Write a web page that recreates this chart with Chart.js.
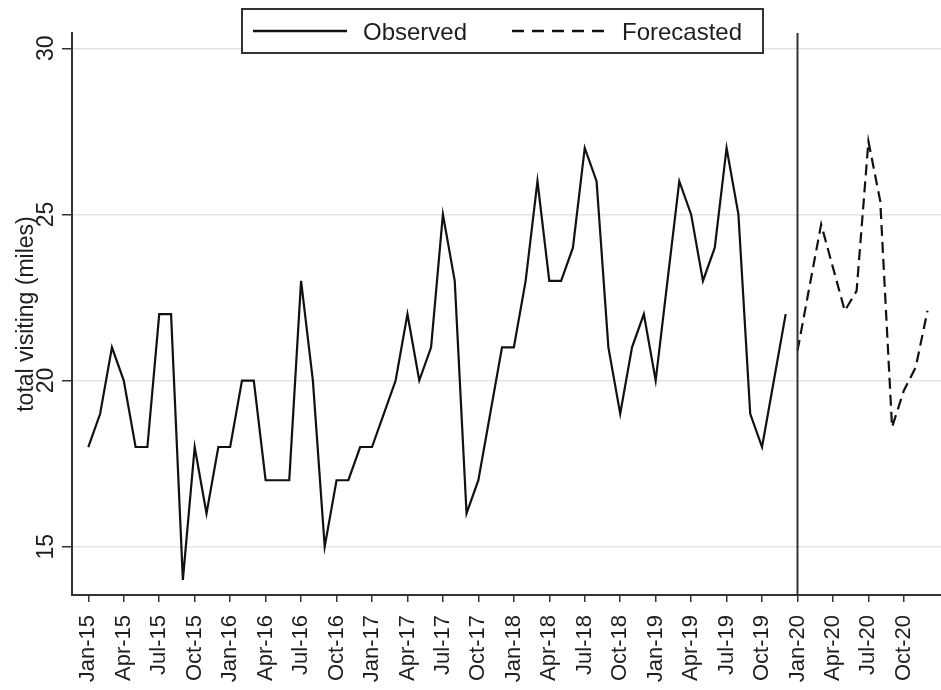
<!DOCTYPE html>
<html><head><meta charset="utf-8">
<script src="https://cdn.jsdelivr.net/npm/chart.js@4/dist/chart.umd.min.js"></script>
<style>html,body{margin:0;padding:0;background:#fff;}#wrap{width:941px;height:690px;}</style>
</head><body><div id="wrap"><canvas id="c" width="941" height="690"></canvas></div>
<script>
const months = [
 'Jan-15','Feb-15','Mar-15','Apr-15','May-15','Jun-15','Jul-15','Aug-15','Sep-15','Oct-15','Nov-15','Dec-15',
 'Jan-16','Feb-16','Mar-16','Apr-16','May-16','Jun-16','Jul-16','Aug-16','Sep-16','Oct-16','Nov-16','Dec-16',
 'Jan-17','Feb-17','Mar-17','Apr-17','May-17','Jun-17','Jul-17','Aug-17','Sep-17','Oct-17','Nov-17','Dec-17',
 'Jan-18','Feb-18','Mar-18','Apr-18','May-18','Jun-18','Jul-18','Aug-18','Sep-18','Oct-18','Nov-18','Dec-18',
 'Jan-19','Feb-19','Mar-19','Apr-19','May-19','Jun-19','Jul-19','Aug-19','Sep-19','Oct-19','Nov-19','Dec-19',
 'Jan-20','Feb-20','Mar-20','Apr-20','May-20','Jun-20','Jul-20','Aug-20','Sep-20','Oct-20','Nov-20','Dec-20'
];
const xTickLabels = ['Jan-15','Apr-15','Jul-15','Oct-15','Jan-16','Apr-16','Jul-16','Oct-16','Jan-17','Apr-17','Jul-17','Oct-17',
 'Jan-18','Apr-18','Jul-18','Oct-18','Jan-19','Apr-19','Jul-19','Oct-19','Jan-20','Apr-20','Jul-20','Oct-20'];
const observed = [
 18,19,21,20,18,18,22,22,14,18,16,18,
 18,20,20,17,17,17,23,20,15,17,17,18,
 18,19,20,22,20,21,25,23,16,17,19,21,
 21,23,26,23,23,24,27,26,21,19,21,22,
 20,23,26,25,23,24,27,25,19,18,20,22
];
const forecastMonths = ['Jan-20','Feb-20','Mar-20','Apr-20','May-20','Jun-20','Jul-20','Aug-20','Sep-20','Oct-20','Nov-20','Dec-20'];
const forecasted = [20.9,22.8,24.7,23.4,22.1,22.7,27.2,25.4,18.6,19.7,20.4,22.1];
const yTicks = [15,20,25,30];
const yTitle = 'total visiting (miles)';
const seriesNames = ['Observed','Forecasted'];
const splitMonth = 'Jan-20';

const FONT = "'Liberation Sans', Arial, sans-serif";
const idx = m => months.indexOf(m);
const obsPts = observed.map((v,i)=>({x:i,y:v}));
const fcPts = forecasted.map((v,i)=>({x:idx(forecastMonths[i]),y:v}));

const customDraw = {
  id:'customDraw',
  afterDatasetsDraw(chart){
    const {ctx, chartArea:a, scales:{x,y}} = chart;
    ctx.save();
    const sx = x.getPixelForValue(idx(splitMonth));
    ctx.strokeStyle='#333'; ctx.lineWidth=2; ctx.setLineDash([]);
    ctx.beginPath(); ctx.moveTo(sx,a.top); ctx.lineTo(sx,a.bottom); ctx.stroke();
    ctx.fillStyle='#1e1e1e'; ctx.font='23px '+FONT; ctx.textAlign='center'; ctx.textBaseline='alphabetic';
    yTicks.forEach(v=>{
      ctx.save(); ctx.translate(53, y.getPixelForValue(v)); ctx.rotate(-Math.PI/2);
      ctx.fillText(String(v),0,0); ctx.restore();
    });
    ctx.font='23px '+FONT;
    ctx.save(); ctx.translate(33,(a.top+a.bottom)/2); ctx.rotate(-Math.PI/2);
    ctx.fillText(yTitle,0,0); ctx.restore();
    const bx=242, by=9, bw=521, bh=44;
    ctx.fillStyle='#fff'; ctx.fillRect(bx,by,bw,bh);
    ctx.strokeStyle='#333'; ctx.lineWidth=2; ctx.strokeRect(bx,by,bw,bh);
    const ly = 31;
    const ds = chart.data.datasets;
    const items = [{x0:253,x1:347,tx:363},{x0:512,x1:606,tx:622}];
    ds.forEach((d,i)=>{
      const it=items[i];
      ctx.strokeStyle=d.borderColor; ctx.lineWidth=2.5; ctx.setLineDash(i===1?[12,8]:[]);
      ctx.beginPath(); ctx.moveTo(it.x0,ly); ctx.lineTo(it.x1,ly); ctx.stroke();
      ctx.setLineDash([]);
      ctx.fillStyle='#1e1e1e'; ctx.font='24px '+FONT; ctx.textAlign='left'; ctx.textBaseline='alphabetic';
      ctx.fillText(d.label,it.tx,40);
    });
    ctx.restore();
  }
};

new Chart(document.getElementById('c'),{
  type:'line',
  data:{datasets:[
    {label:seriesNames[0],data:obsPts,borderColor:'#111',borderWidth:2.2,pointRadius:0,tension:0,fill:false},
    {label:seriesNames[1],data:fcPts,borderColor:'#111',borderWidth:2.2,borderDash:[11,6],pointRadius:0,tension:0,fill:false}
  ]},
  options:{
    responsive:false, animation:false, devicePixelRatio:1,
    layout:{padding:{top:33,right:0,left:0,bottom:0}},
    plugins:{legend:{display:false},tooltip:{enabled:false},title:{display:false}},
    scales:{
      x:{type:'linear',min:-1.38,max:72.14,
        afterBuildTicks:s=>{s.ticks=xTickLabels.map(l=>({value:idx(l)}));},
        afterFit:s=>{s.height=95;s.paddingLeft=0;s.paddingRight=0;},
        ticks:{autoSkip:false,maxRotation:90,minRotation:90,padding:13,color:'#1e1e1e',font:{family:FONT,size:22},
          callback:v=>months[v]},
        grid:{drawOnChartArea:false,drawTicks:true,tickLength:7,tickColor:'#333',lineWidth:1.5},
        border:{color:'#333',width:2}
      },
      y:{type:'linear',min:13.546,max:30.46,
        afterBuildTicks:s=>{s.ticks=yTicks.map(v=>({value:v}));},
        afterFit:s=>{s.width=72;s.paddingTop=0;s.paddingBottom=0;},
        ticks:{display:false},
        grid:{color:'#e3e3e3',lineWidth:1.5,drawTicks:true,tickLength:10,tickColor:'#333'},
        border:{color:'#333',width:2}
      }
    }
  },
  plugins:[customDraw]
});
</script></body></html>
